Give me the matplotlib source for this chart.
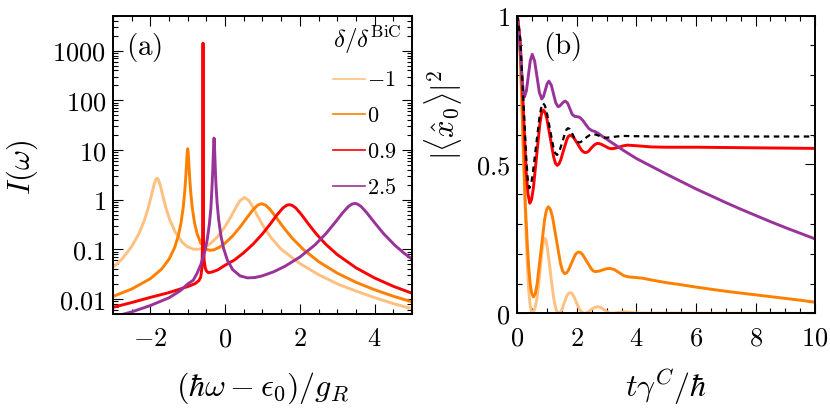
import matplotlib
matplotlib.use('Agg')
import matplotlib.pyplot as plt
from matplotlib.lines import Line2D
from matplotlib.ticker import FixedLocator, FixedFormatter, MultipleLocator, NullFormatter, FuncFormatter, LogLocator

plt.rcParams['mathtext.fontset'] = 'cm'
plt.rcParams['font.family'] = 'serif'
plt.rcParams['font.serif'] = ['DejaVu Serif']

# Farben je delta/delta^BiC
col_m1 = '#FFC080'
col_0 = '#FF8000'
col_09 = '#FF0000'
col_25 = '#993399'

# ---- Panel (a): Spektren I(omega) ----
x_m1 = [-3.0, -2.75, -2.5, -2.3, -2.15, -2.05, -1.97, -1.9, -1.85, -1.82, -1.79, -1.74, -1.67, -1.59,
        -1.49, -1.34, -1.14, -1.0, -0.85, -0.7, -0.55, -0.4, -0.2, 0.0, 0.15, 0.3, 0.4, 0.52, 0.64,
        0.74, 0.89, 1.04, 1.25, 1.5, 2.0, 2.5, 3.0, 3.5, 4.0, 4.5, 5.0]
I_m1 = [0.043, 0.065, 0.114, 0.211, 0.403, 0.71, 1.23, 2.02, 2.59, 2.72, 2.6, 2.02, 1.23, 0.717,
        0.413, 0.227, 0.137, 0.1125, 0.101, 0.101, 0.110, 0.129, 0.180, 0.288, 0.447, 0.724, 0.958,
        1.111, 0.956, 0.721, 0.441, 0.279, 0.165, 0.101, 0.052, 0.031, 0.0203, 0.0145, 0.0107,
        0.0081, 0.0064]

x_0 = [-3.0, -2.5, -2.0, -1.7, -1.5, -1.35, -1.25, -1.18, -1.12, -1.08, -1.05, -1.03, -1.015, -1.0,
       -0.985, -0.97, -0.95, -0.92, -0.88, -0.82, -0.75, -0.65, -0.5, -0.4, -0.3, -0.15, 0.0, 0.2,
       0.4, 0.6, 0.75, 0.88, 0.98, 1.08, 1.21, 1.36, 1.56, 1.8, 2.1, 2.5, 3.0, 3.5, 4.0, 4.5, 5.0]
I_0 = [0.0113, 0.0159, 0.0257, 0.040, 0.0632, 0.1086, 0.190, 0.339, 0.702, 1.43, 2.99, 5.48, 8.65,
       10.64, 8.65, 5.48, 2.99, 1.435, 0.709, 0.351, 0.207, 0.133, 0.100, 0.0958, 0.098, 0.1105,
       0.1335, 0.186, 0.281, 0.449, 0.633, 0.784, 0.83, 0.783, 0.631, 0.447, 0.278, 0.167, 0.0988,
       0.0569, 0.0333, 0.0218, 0.0154, 0.0114, 0.0088]

x_09 = [-3.0, -2.5, -2.0, -1.5, -1.0, -0.8, -0.7, -0.65, -0.62, -0.605, -0.598, -0.594, -0.592,
        -0.5905, -0.59, -0.5895, -0.588, -0.586, -0.582, -0.575, -0.56, -0.53, -0.5, -0.45, -0.35,
        -0.2, 0.0, 0.25, 0.5, 0.75, 1.0, 1.2, 1.4, 1.55, 1.65, 1.72, 1.79, 1.89, 2.04, 2.24, 2.44,
        2.69, 3.0, 3.5, 4.0, 4.5, 5.0]
I_09 = [0.0068, 0.0085, 0.0108, 0.0135, 0.0178, 0.0205, 0.0235, 0.028, 0.042, 0.11, 0.5, 3.0, 30,
        400, 1420, 400, 30, 3.0, 0.5, 0.13, 0.06, 0.042, 0.037, 0.034, 0.035, 0.0385, 0.048, 0.0611,
        0.0857, 0.1276, 0.205, 0.318, 0.506, 0.685, 0.773, 0.794, 0.773, 0.685, 0.506, 0.318, 0.205,
        0.1276, 0.0787, 0.0427, 0.0266, 0.0181, 0.0131]

x_25 = [-3.0, -2.75, -2.5, -2.0, -1.5, -1.2, -1.0, -0.85, -0.75, -0.65, -0.55, -0.48, -0.42, -0.38,
        -0.35, -0.33, -0.315, -0.305, -0.295, -0.285, -0.275, -0.26, -0.24, -0.21, -0.17, -0.11,
        -0.04, 0.06, 0.2, 0.4, 0.6, 0.8, 1.0, 1.3, 1.6, 2.0, 2.4, 2.7, 2.95, 3.15, 3.3, 3.4, 3.47,
        3.54, 3.64, 3.79, 3.99, 4.24, 4.54, 4.8, 5.0]
I_25 = [0.0043, 0.0049, 0.0055, 0.0074, 0.0106, 0.0147, 0.0201, 0.024, 0.033, 0.049, 0.086, 0.154,
        0.323, 0.67, 1.78, 3.82, 8.05, 13.5, 17.4, 13.5, 8.05, 3.82, 1.78, 0.805, 0.388, 0.186,
        0.1047, 0.0612, 0.0394, 0.0293, 0.0267, 0.0271, 0.0294, 0.0354, 0.0456, 0.070, 0.122, 0.208,
        0.353, 0.549, 0.731, 0.82, 0.84, 0.82, 0.731, 0.549, 0.353, 0.208, 0.1215, 0.0826, 0.0639]

legend_labels = ['$-1$', '$0$', '$0.9$', '$2.5$']

# ---- Panel (b): Zeitentwicklung |<x0>|^2 ----
t_m1 = [0.0, 0.05, 0.1, 0.15, 0.2, 0.27, 0.33, 0.38, 0.43, 0.47, 0.5, 0.55, 0.6, 0.66, 0.72, 0.78,
        0.84, 0.88, 0.92, 0.96, 1.0, 1.06, 1.12, 1.18, 1.24, 1.3, 1.35, 1.39, 1.44, 1.5, 1.58, 1.66,
        1.72, 1.78, 1.84, 1.92, 2.0, 2.08, 2.16, 2.24, 2.3, 2.4, 2.5, 2.6, 2.7, 2.8, 2.9, 3.0, 3.1,
        3.2, 3.35, 3.5, 3.65, 3.8, 4.0, 4.3, 5.0, 6.0, 8.0, 10.0]
v_m1 = [1.0, 0.96, 0.86, 0.71, 0.54, 0.33, 0.17, 0.08, 0.027, 0.006, 0.0, 0.006, 0.02, 0.05, 0.1,
        0.16, 0.218, 0.243, 0.252, 0.245, 0.225, 0.18, 0.13, 0.08, 0.04, 0.013, 0.002, 0.0, 0.003,
        0.013, 0.037, 0.058, 0.067, 0.069, 0.066, 0.052, 0.032, 0.015, 0.004, 0.0, 0.0005, 0.006,
        0.014, 0.02, 0.022, 0.02, 0.013, 0.006, 0.001, 0.0, 0.002, 0.004, 0.0045, 0.003, 0.001,
        0.0005, 0.0008, 0.0005, 0.0002, 0.0001]

t_0 = [0.0, 0.05, 0.1, 0.15, 0.2, 0.27, 0.33, 0.38, 0.43, 0.48, 0.54, 0.6, 0.665, 0.79, 0.915, 0.98,
       1.04, 1.11, 1.18, 1.315, 1.45, 1.52, 1.59, 1.65, 1.71, 1.825, 1.94, 2.0, 2.06, 2.13, 2.2,
       2.34, 2.48, 2.55, 2.62, 2.74, 2.86, 2.98, 3.1, 3.26, 3.42, 3.58, 3.75, 3.95, 4.2, 4.5, 5.0,
       5.5, 6.0, 6.5, 7.0, 7.5, 8.0, 8.5, 9.0, 9.5, 10.0]
v_0 = [1.0, 0.96, 0.86, 0.72, 0.56, 0.36, 0.24, 0.157, 0.1, 0.068, 0.055, 0.0656, 0.099, 0.2065,
       0.314, 0.348, 0.358, 0.349, 0.324, 0.2455, 0.167, 0.142, 0.133, 0.136, 0.1435, 0.1695,
       0.196, 0.203, 0.206, 0.2035, 0.196, 0.173, 0.15, 0.1425, 0.14, 0.1416, 0.1455, 0.1494,
       0.151, 0.1468, 0.1365, 0.1262, 0.122, 0.1205, 0.118, 0.112, 0.103, 0.096, 0.088, 0.081,
       0.074, 0.068, 0.062, 0.056, 0.050, 0.044, 0.037]

t_09 = [0.0, 0.1, 0.2, 0.3, 0.36, 0.42, 0.48, 0.54, 0.645, 0.75, 0.81, 0.87, 0.93, 0.99, 1.105,
        1.22, 1.28, 1.34, 1.4, 1.46, 1.55, 1.66, 1.71, 1.765, 1.83, 1.9, 2.02, 2.15, 2.22, 2.28,
        2.34, 2.4, 2.485, 2.59, 2.64, 2.69, 2.75, 2.82, 2.935, 3.05, 3.12, 3.18, 3.3, 3.44, 3.57,
        3.7, 4.0, 4.5, 5.0, 6.0, 7.0, 8.0, 9.0, 10.0]
v_09 = [1.0, 0.91, 0.69, 0.47, 0.40, 0.37, 0.383, 0.422, 0.5265, 0.631, 0.67, 0.683, 0.676, 0.655,
        0.59, 0.525, 0.504, 0.497, 0.502, 0.516, 0.547, 0.583, 0.594, 0.598, 0.596, 0.589, 0.57,
        0.549, 0.542, 0.54, 0.541, 0.545, 0.5555, 0.566, 0.569, 0.571, 0.570, 0.568, 0.562, 0.556,
        0.5535, 0.553, 0.555, 0.559, 0.563, 0.565, 0.563, 0.559, 0.558, 0.558, 0.557, 0.556, 0.555,
        0.554]

t_25 = [0.0, 0.05, 0.1, 0.15, 0.2, 0.24, 0.305, 0.37, 0.435, 0.5, 0.58, 0.66, 0.74, 0.82, 0.88,
        0.94, 1.0, 1.06, 1.14, 1.215, 1.29, 1.37, 1.43, 1.49, 1.55, 1.61, 1.69, 1.765, 1.84, 1.92,
        2.0, 2.1, 2.2, 2.3, 2.4, 2.5, 2.6, 2.7, 2.85, 3.0, 3.3, 3.6, 4.0, 4.5, 5.0, 5.5, 6.0, 6.5,
        7.0, 7.5, 8.0, 8.5, 9.0, 9.5, 10.0]
v_25 = [1.0, 0.95, 0.88, 0.80, 0.745, 0.727, 0.748, 0.7985, 0.849, 0.87, 0.848, 0.795, 0.742, 0.72,
        0.729, 0.75, 0.771, 0.78, 0.767, 0.737, 0.707, 0.694, 0.697, 0.7035, 0.71, 0.713, 0.706,
        0.6875, 0.669, 0.662, 0.661, 0.658, 0.648, 0.634, 0.621, 0.614, 0.611, 0.606, 0.595, 0.585,
        0.565, 0.545, 0.52, 0.494, 0.468, 0.443, 0.418, 0.395, 0.372, 0.35, 0.329, 0.308, 0.288,
        0.269, 0.25]

# Referenz (gestrichelt)
t_ref = [0.0, 0.1, 0.2, 0.3, 0.35, 0.40, 0.46, 0.52, 0.63, 0.74, 0.8, 0.86, 0.92, 0.98, 1.095,
         1.21, 1.27, 1.33, 1.38, 1.43, 1.515, 1.6, 1.65, 1.70, 1.76, 1.82, 1.91, 2.0, 2.06, 2.12,
         2.2, 2.33, 2.45, 2.55, 2.65, 2.78, 2.9, 3.0, 3.25, 3.5, 4.0, 5.0, 7.0, 10.0]
v_ref = [1.0, 0.92, 0.72, 0.52, 0.45, 0.42, 0.432, 0.47, 0.563, 0.656, 0.69, 0.706, 0.699, 0.68,
         0.619, 0.558, 0.539, 0.532, 0.537, 0.55, 0.577, 0.605, 0.617, 0.622, 0.619, 0.609, 0.59,
         0.578, 0.574, 0.575, 0.58, 0.592, 0.6, 0.602, 0.6, 0.595, 0.591, 0.59, 0.593, 0.596, 0.595,
         0.594, 0.594, 0.594]

fig = plt.figure(figsize=(8.3, 4.16), dpi=100)
ax1 = fig.add_axes([0.1361, 0.2452, 0.3602, 0.7163])
ax2 = fig.add_axes([0.6233, 0.2469, 0.3587, 0.7154])

lw = 2.1
for xs, ys, c in [(x_m1, I_m1, col_m1), (x_0, I_0, col_0), (x_09, I_09, col_09), (x_25, I_25, col_25)]:
    ax1.plot(xs, ys, color=c, lw=lw)

ax1.set_yscale('log')
ax1.set_xlim(-3, 5)
ax1.set_ylim(0.005, 5000)
ax1.yaxis.set_major_locator(FixedLocator([0.01, 0.1, 1, 10, 100, 1000]))
ax1.yaxis.set_major_formatter(FixedFormatter(['$0.01$', '$0.1$', '$1$', '$10$', '$100$', '$1000$']))
ax1.yaxis.set_minor_locator(LogLocator(base=10, subs=range(2, 10), numticks=20))
ax1.yaxis.set_minor_formatter(NullFormatter())
ax1.xaxis.set_major_locator(MultipleLocator(2))
ax1.xaxis.set_minor_locator(MultipleLocator(0.5))
ax1.xaxis.set_major_formatter(FuncFormatter(lambda v, p: f'${v:g}$'))
ax1.set_xlabel(r'$(\hbar\omega-\epsilon_0)/g_R$', fontsize=23, va='center')
ax1.xaxis.set_label_coords(0.5, -0.248)
ax1.set_ylabel(r'$I(\omega)$', fontsize=22, va='center')
ax1.yaxis.set_label_coords(-0.304, 0.493)
ax1.text(0.043, 0.896, r'$\mathrm{(a)}$', transform=ax1.transAxes, fontsize=21, va='center', ha='left')

handles = [Line2D([0], [0], color=c, lw=1.2) for c in [col_m1, col_0, col_09, col_25]]
leg = ax1.legend(handles, legend_labels, title=r'$\delta/\delta^{\mathrm{BiC}}$', loc='upper right',
                 bbox_to_anchor=(0.965, 0.975), frameon=False, fontsize=16, title_fontsize=18,
                 handlelength=1.45, handletextpad=0.1, labelspacing=0.62, borderpad=0, borderaxespad=0)
leg._legend_box.align = 'left'

ax2.plot(t_m1, v_m1, color=col_m1, lw=lw)
ax2.plot(t_0, v_0, color=col_0, lw=lw)
ax2.plot(t_09, v_09, color=col_09, lw=lw)
ax2.plot(t_25, v_25, color=col_25, lw=lw)
ax2.plot(t_ref, v_ref, color='black', lw=1.6, dashes=(2.5, 2))
ax2.set_xlim(0, 10)
ax2.set_ylim(0, 1)
ax2.xaxis.set_major_locator(MultipleLocator(2))
ax2.xaxis.set_minor_locator(MultipleLocator(0.5))
ax2.xaxis.set_major_formatter(FuncFormatter(lambda v, p: f'${v:g}$'))
ax2.yaxis.set_major_locator(MultipleLocator(0.5))
ax2.yaxis.set_minor_locator(MultipleLocator(0.1))
ax2.yaxis.set_major_formatter(FuncFormatter(lambda v, p: f'${v:g}$'))
ax2.set_xlabel(r'$t\gamma^C/\hbar$', fontsize=23, va='center')
ax2.xaxis.set_label_coords(0.5, -0.248)
ax2.set_ylabel(r'$|\langle \hat{x}_0\rangle|^2$', fontsize=22, va='center')
ax2.yaxis.set_label_coords(-0.25, 0.666)
ax2.text(0.086, 0.895, r'$\mathrm{(b)}$', transform=ax2.transAxes, fontsize=21, va='center', ha='left')

for ax in (ax1, ax2):
    ax.tick_params(which='both', direction='in', top=True, right=True, width=0.8, labelsize=19)
    ax.tick_params(which='major', length=7)
    ax.tick_params(which='minor', length=3.5)
    ax.tick_params(axis='x', pad=9)
    ax.tick_params(axis='y', pad=5)
    for s in ax.spines.values():
        s.set_linewidth(1.4)

fig.savefig('out.png', dpi=100)
